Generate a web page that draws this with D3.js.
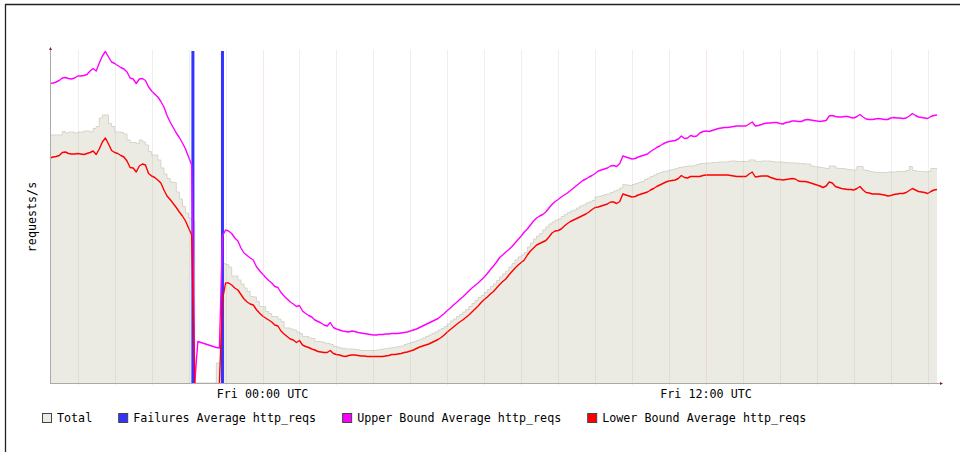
<!DOCTYPE html>
<html>
<head>
<meta charset="utf-8">
<script src="https://cdn.jsdelivr.net/npm/d3@7"></script>
<style>
  html, body { margin: 0; padding: 0; background: #ffffff; }
  svg { display: block; }
</style>
</head>
<body>
<svg id="chart" width="960" height="452"></svg>
<script>
// Five-minute samples from Thu 18:15 UTC to Fri 18:15 UTC.
const startTime = Date.UTC(2024, 0, 4, 18, 15);
const stepMinutes = 5;
const windowHours = 24;
const yMax = 332;

// Total requests per five-minute bucket (drawn as steps).
const totalValues = [
  248,248,248,248,251.5,250,251,251,250,251,251,252,252,251,254.5,256.5,265,268,268,259.5,256.5,251,251,250.5,249,243,240.5,240.5,239.5,243,241,238,231.5,228,228,223,215,209,204.5,201,200.5,191,184,176.5,170,165,162,
  0,0,0,0,0,0,0,20,20,
  119.5,118.5,116,107,107,103,99,95,91.5,86.5,
  86,81.5,76.5,76.5,71.5,69.5,66.5,66.5,64,61.5,
  55,55,54,53,51,49.5,46.5,46.5,45,44.5,
  41.5,41.5,41,40,39.5,38.5,36.5,36,35,34.5,
  34,34,34,33.5,33,32.5,32.5,32.5,32.5,32.5,
  33,33.5,34,34.5,35,35.5,36,36.5,37,38.5,
  39.5,40.5,41.5,42.5,43.5,45,46.5,48,49.5,51,
  53,54.5,56.5,59,62,64,66.5,68.5,71,73.5,
  76.5,79.5,82.5,85.5,87.5,90.5,93.5,96.5,99,102.5,
  106,109,112,116,119.5,123,126,128,130.5,136,
  140,144,147,149.5,153,156,159,161,163,164,
  166.5,168.5,170.5,172,173,175,177,178,180,181,
  182.5,186,186.5,187.5,188.5,189,190.5,192,193,195,
  198.5,198,197.5,198.5,199.5,200.5,201.5,203.5,205,206.5,
  208,209.5,210.5,211.5,212,213,213.5,214.5,215.5,216,
  216.5,217,217,217.5,218.5,219.5,219.5,220,220,220.5,
  220.5,221,221,221,221.5,222,222,221.5,221.5,221.5,
  221.5,223,223,221.5,221.5,222,222,222,221.5,221,
  221,221,220.5,220.5,220,220,220,219.5,219.5,219,
  219,217,216.5,216,215.5,215,214.5,217,217,215,
  214.5,214.5,214,213.5,213,213,216.5,216.5,213,212.5,
  211.5,211,210.5,210.5,210.5,210.5,211,211,211,211.5,
  211.5,211.5,212.5,216.5,212.5,212,211.5,211.5,211,211.5,
  214.5,214.5
];

// Upper bound of the average http_reqs rate.
const upperValues = [
  299.5,300,301,302.5,305,305.5,304.5,304,305,307,307,307.5,308.5,312,314.5,312,320,327,331.5,326,321,319.5,317.5,315.5,314,311,305,304,299.5,304,304.5,302.5,296,292,289,286,281.5,276,267.5,261,255.5,250,245.5,240,234,226,218,
  0,41.5,40.5,39.5,38.5,37.5,36.5,35.5,35,
  147,153,152,149.5,145,142,135,130,127.5,125,
  123,116.5,112.5,109,105.5,102.5,100,96.5,95.5,90.5,
  87,84,81,79,76.5,77.5,72,69.5,67.5,66,
  63,61.5,60,58,57,60.5,55.5,54,53,52,
  51.5,51,52,51.5,50.5,50,49.5,49,48.5,48,
  48,48.5,48.5,49,49,49.5,49.5,49.5,50,50.5,
  51,52,53,54,55.5,57,58.5,60,61.5,63,
  64.5,67,69.5,72.5,75,78,80.5,83.5,86,89,
  92,95,97.5,100,103,106,109.5,113.5,117,121,
  125.5,128,131,133.5,136.5,140,143.5,147,151,154,
  158,162,165,167,168.5,171,175,178.5,181.5,183.5,
  186,188,190,192.5,195,197.5,200,202.5,204,206,
  207.5,209.5,212,213,214,215,217,217.5,216.5,219.5,
  227,226,225,224,224.5,226,227,228,229,231.5,
  233.5,235.5,237,239,240.5,241.5,242,242.5,244,247,
  244.5,245,247.5,246.5,247,250,251.5,252,251.5,252.5,
  253.5,254.5,255,255.5,255.5,256,256.5,257,257,257,
  257,259,261,257,257.5,258.5,259.5,260,260,260.5,
  260.5,259.5,259,260.5,261,262,262,261.5,261.5,263,
  263.5,263,262.5,262,261.5,262,262.5,267,267.5,266.5,
  266,266,266.5,266.5,265.5,265,266.5,268.5,266,264,
  263.5,263.5,264,264.5,264,263.5,263.5,265,265.5,265,
  265,264.5,265,267,269.5,267.5,266,265.5,265,264.5,
  266.5,267.5,268
];

// Lower bound of the average http_reqs rate (null where no samples).
const lowerValues = [
  225,226,226.5,227.5,230.5,231,229.5,229,229,229.5,229,228.5,229.5,230.5,232,228.5,234,241,245,239,232.5,230.5,229.5,227.5,226,222,215.5,215,211,217,219,218,209.5,207,205.5,203,200,193,187,183.5,179.5,175.5,171,167,162,155,148,
  0,null,null,null,null,null,null,null,0,
  83,100,100,98,95,93,88.5,84,81,79,
  78,73.5,70,67,65,63,61,58,57,52,
  49,46.5,44,43,40.5,42.5,38,36.5,35.5,34,
  33,31.5,31,30.5,30.5,32.5,29.5,28.5,28,27,
  26.5,27.5,28,28,27.5,27,27,26.5,26.5,26.5,
  26.5,26.5,26.5,27,27.5,28.5,28.5,29,29.5,30.5,
  31,32,33,34.5,36,37,38,39,40.5,42,
  43.5,45.5,48,51,53.5,56,58.5,61,63,65.5,
  68,71,74,77,80.5,83.5,86,89,91.5,95,
  98.5,101.5,104,108,111.5,115,118,120.5,123,128,
  132,135,138,139.5,141,142.5,146,150,152,152.5,
  154,157,159.5,161.5,163,164.5,166,167.5,169,171,
  173.5,175.5,176,177,178,179,181,181,179.5,181.5,
  189,188,187,186,186.5,188,189,190,191,193,
  194.5,196.5,198,199.5,201,202,202.5,203,204.5,207.5,
  205.5,205,206.5,206.5,206.5,206.5,207.5,208,208,208,
  208,208,208,208,208,207.5,207,206.5,206.5,206.5,
  206.5,209,211,206,206.5,207,207,207,205.5,204.5,
  203.5,203.5,203,203.5,204,204.5,204,202,201.5,201.5,
  201,200,199,198,197,195.5,197,201,200,196.5,
  195.5,194.5,194,193.5,193.5,193,194.5,196.5,193,190.5,
  190,189,189,189,188.5,188,187,187.5,188.5,189,
  189.5,189.5,190.5,192.5,194.5,193,191.5,191,190.5,189.5,
  191.5,193,193.5
];

// Failure events (rate far above the visible range).
const failureTimes = ["2024-01-04T22:07:00Z", "2024-01-04T22:55:00Z"];
const failureValues = [1500, 1500];

const seriesNames = ["Total", "Failures Average http_reqs", "Upper Bound Average http_reqs", "Lower Bound Average http_reqs"];
const seriesColors = ["#ecebe3", "#3333ff", "#ff00ff", "#ff0000"];
const yAxisLabel = "requests/s";
const xTickFormat = "%a %H:%M UTC";

// ---------------------------------------------------------------
const FONT = "'DejaVu Sans Mono', 'Liberation Mono', monospace";
const svg = d3.select("#chart");

const plot = { left: 50, right: 937, top: 51, bottom: 383 };

const t0 = new Date(startTime);
const t1 = new Date(startTime + windowHours * 3600 * 1000);
const timeAt = i => new Date(startTime + i * stepMinutes * 60 * 1000);

const x = d3.scaleUtc().domain([t0, t1]).range([plot.left, plot.right]);
const y = d3.scaleLinear().domain([0, yMax]).range([plot.bottom, plot.top]);

// outer frame
svg.append("path")
  .attr("d", "M5.5,452 V4.5 H960")
  .attr("fill", "none")
  .attr("stroke", "#222")
  .attr("stroke-width", 1.3);

svg.append("defs").append("clipPath").attr("id", "plotClip")
  .append("rect")
  .attr("x", plot.left).attr("y", plot.top)
  .attr("width", plot.right - plot.left + 3)
  .attr("height", plot.bottom - plot.top + 1);

const g = svg.append("g").attr("clip-path", "url(#plotClip)");

// Total as stepped area
const totalPts = totalValues.map((v, i) => ({ t: timeAt(i), v }));
totalPts.push({ t: timeAt(totalValues.length), v: totalValues[totalValues.length - 1] });

g.append("path")
  .datum(totalPts)
  .attr("fill", seriesColors[0])
  .attr("d", d3.area().curve(d3.curveStepAfter)
    .x(d => x(d.t)).y0(y(0)).y1(d => y(d.v)));

g.append("path")
  .datum(totalPts)
  .attr("fill", "none")
  .attr("stroke", "#d6d5cb")
  .attr("stroke-width", 1)
  .attr("d", d3.line().curve(d3.curveStepAfter)
    .x(d => x(d.t)).y(d => y(d.v)));

// hourly grid lines
const hours = x.ticks(d3.utcHour.every(1));
svg.append("g").selectAll("line")
  .data(hours)
  .join("line")
  .attr("x1", d => Math.round(x(d)) + 0.5)
  .attr("x2", d => Math.round(x(d)) + 0.5)
  .attr("y1", plot.top - 1)
  .attr("y2", plot.bottom + 2)
  .attr("stroke", d => (d.getUTCHours() % 12 === 0) ? "rgba(225,170,170,0.28)" : "rgba(170,170,170,0.2)")
  .attr("stroke-width", 1);

// failure spikes
const failures = failureTimes.map((t, i) => ({ t: new Date(t), v: failureValues[i] }));
g.append("g").selectAll("line")
  .data(failures)
  .join("line")
  .attr("x1", d => x(d.t)).attr("x2", d => x(d.t))
  .attr("y1", y(0)).attr("y2", d => y(d.v))
  .attr("stroke", seriesColors[1])
  .attr("stroke-width", 3);

// bound lines
const lineGen = d3.line()
  .defined(d => d.v != null)
  .x(d => x(d.t)).y(d => y(d.v));

g.append("path")
  .datum(upperValues.map((v, i) => ({ t: timeAt(i), v })))
  .attr("fill", "none")
  .attr("stroke", seriesColors[2])
  .attr("stroke-width", 1.4)
  .attr("stroke-linejoin", "round")
  .attr("d", lineGen);

g.append("path")
  .datum(lowerValues.map((v, i) => ({ t: timeAt(i), v })))
  .attr("fill", "none")
  .attr("stroke", seriesColors[3])
  .attr("stroke-width", 1.4)
  .attr("stroke-linejoin", "round")
  .attr("d", lineGen);

// axes
svg.append("line")
  .attr("x1", plot.left + 0.5).attr("x2", plot.left + 0.5)
  .attr("y1", plot.top - 3).attr("y2", plot.bottom + 1)
  .attr("stroke", "#aaa").attr("stroke-width", 1);
svg.append("line")
  .attr("x1", plot.left).attr("x2", plot.right + 4)
  .attr("y1", plot.bottom + 0.5).attr("y2", plot.bottom + 0.5)
  .attr("stroke", "#aaa").attr("stroke-width", 1);
// axis end markers
svg.append("path")
  .attr("d", `M${plot.left - 1},${plot.top - 1} L${plot.left + 0.5},${plot.top - 4} L${plot.left + 2},${plot.top - 1} Z`)
  .attr("fill", "#8b2020");
svg.append("path")
  .attr("d", `M${plot.right + 3},${plot.bottom - 1} L${plot.right + 6},${plot.bottom + 0.5} L${plot.right + 3},${plot.bottom + 2} Z`)
  .attr("fill", "#8b2020");

// x tick labels every 12 hours
const fmt = d3.utcFormat(xTickFormat);
svg.append("g").selectAll("text")
  .data(x.ticks(d3.utcHour.every(12)))
  .join("text")
  .attr("x", d => x(d))
  .attr("y", plot.bottom + 15)
  .attr("text-anchor", "middle")
  .attr("font-family", FONT)
  .attr("font-size", "11.7px")
  .attr("fill", "#000")
  .text(d => fmt(d));

// y axis title
svg.append("text")
  .attr("transform", `translate(36,${(plot.top + plot.bottom) / 2}) rotate(-90)`)
  .attr("text-anchor", "middle")
  .attr("font-family", FONT)
  .attr("font-size", "11.7px")
  .attr("fill", "#000")
  .text(yAxisLabel);

// legend
const legend = svg.append("g");
let lx = 42;
seriesNames.forEach((name, i) => {
  legend.append("rect")
    .attr("x", lx + 0.5).attr("y", 413.5)
    .attr("width", 9).attr("height", 9)
    .attr("fill", seriesColors[i])
    .attr("stroke", "#444").attr("stroke-width", 1);
  const txt = legend.append("text")
    .attr("x", lx + 15).attr("y", 421.5)
    .attr("font-family", FONT)
    .attr("font-size", "11.7px")
    .attr("fill", "#000")
    .text(name);
  lx = lx + 15 + txt.node().getComputedTextLength() + 26;
});
</script>
</body>
</html>
